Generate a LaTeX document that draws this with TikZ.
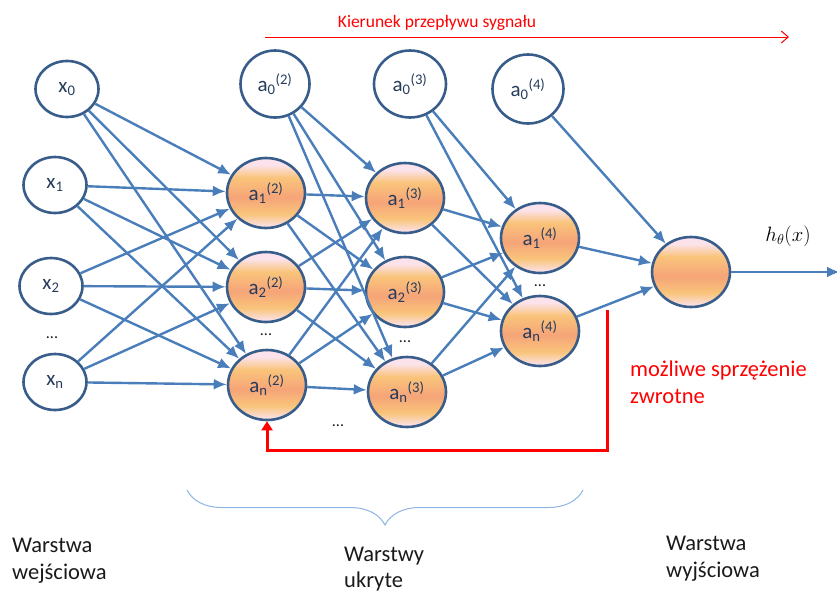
\documentclass[tikz,border=0pt]{standalone}
\usepackage{fontspec}
\setmainfont{Carlito}
\usetikzlibrary{arrows.meta,shapes.geometric,decorations.pathreplacing}

\definecolor{edgeblue}{RGB}{74,126,187}
\definecolor{rimblue}{RGB}{56,93,138}
\definecolor{labelblue}{RGB}{38,60,92}
\definecolor{nlight}{RGB}{252,226,234}
\definecolor{nyellow}{RGB}{249,196,122}
\definecolor{nsalmon}{RGB}{246,164,120}
\definecolor{bracecol}{RGB}{142,180,227}
\definecolor{capcol}{RGB}{26,26,26}

\pgfdeclareverticalshading{neuronfill}{100bp}{color(0bp)=(nlight); color(26bp)=(nlight); color(35bp)=(nyellow); color(47bp)=(nsalmon); color(61bp)=(nyellow); color(70bp)=(nlight); color(100bp)=(nlight)}

\newcommand{\neur}[3]{#1\textsubscript{#2}\textsuperscript{(#3)}}

\tikzset{
  bias/.style={fill=white},
  neuron/.style={shading=neuronfill,minimum width=78pt,minimum height=70pt},
  bigtext/.style={font=\fontsize{22.5}{27}\selectfont},
}

\begin{document}
\begin{tikzpicture}[x=1pt,y=-1pt]
\useasboundingbox (0,0) rectangle (837,598);

      \begin{scope}[every node/.style={ellipse,draw=rimblue,line width=2.6pt,text=labelblue,inner sep=1pt,font=\fontsize{21}{24}\selectfont}]
        \node[bias,minimum width=63pt,minimum height=56pt] (x0) at (67,89)  {x\textsubscript{0}};
        \node[bias,minimum width=63pt,minimum height=56pt] (x1) at (55,185) {x\textsubscript{1}};
        \node[bias,minimum width=63pt,minimum height=56pt] (x2) at (51,286) {x\textsubscript{2}};
        \node[bias,minimum width=63pt,minimum height=56pt] (xn) at (55,382) {x\textsubscript{n}};
        \node[bias,minimum width=69pt,minimum height=67pt] (a02) at (275,84) {\neur{a}{0}{2}};
        \node[neuron] (a12) at (266,193) {\neur{a}{1}{2}};
        \node[neuron] (a22) at (266,287) {\neur{a}{2}{2}};
        \node[neuron] (an2) at (267,385) {\neur{a}{n}{2}};
        \node[bias,minimum width=72pt,minimum height=67pt] (a03) at (410,84) {\neur{a}{0}{3}};
        \node[neuron] (a13) at (405,198) {\neur{a}{1}{3}};
        \node[neuron] (a23) at (405,292) {\neur{a}{2}{3}};
        \node[neuron] (an3) at (407,392) {\neur{a}{n}{3}};
        \node[bias,minimum width=71pt,minimum height=69pt] (a04) at (528,89) {\neur{a}{0}{4}};
        \node[neuron] (a14) at (540,238) {\neur{a}{1}{4}};
        \node[neuron] (an4) at (540,331) {\neur{a}{n}{4}};
        \node[neuron] (out) at (691,272) {};
      \end{scope}

      \begin{scope}[every node/.style={text=capcol,font=\fontsize{16}{18}\selectfont}]
        \node (dotsx) at (52,338) {...};
        \node (dots2) at (266,335) {...};
        \node (dots3) at (405,342) {...};
        \node (dots4) at (540,286) {...};
        \node (dotsm) at (338,426) {...};
      \end{scope}

      \coordinate (hout) at (840,272);
      \coordinate (flowstart) at (265,37);
      \coordinate (flowend) at (789,37);
      \coordinate (fbtop) at (607,310);
      \coordinate (fbcorner) at (607,450);
      \coordinate (braceR) at (583,490);
      \coordinate (braceL) at (187,490);

      \begin{scope}[every edge/.style={draw=edgeblue,line width=2.4pt,-{Latex[length=13pt,width=11pt]}}]
        \path (x0) edge (a12) edge (a22) edge (an2);
        \path (x1) edge (a12) edge (a22) edge (an2);
        \path (x2) edge (a12) edge (a22) edge (an2);
        \path (xn) edge (a12) edge (a22) edge (an2);
        \path (a02) edge (a13) edge (a23) edge (an3);
        \path (a12) edge (a13) edge (a23) edge (an3);
        \path (a22) edge (a13) edge (a23) edge (an3);
        \path (an2) edge (a13) edge (a23) edge (an3);
        \path (a03) edge (a14) edge (an4);
        \path (a13) edge (a14) edge (an4);
        \path (a23) edge (a14) edge (an4);
        \path (an3) edge (a14) edge (an4);
        \path (a04) edge (out);
        \path (a14) edge (out);
        \path (an4) edge (out);
        \path (out) edge (hout);
      \end{scope}

      \draw[red,line width=1pt,-{Straight Barb[length=7pt,width=12pt]}] (flowstart) -- (flowend);
      \draw[red,line width=3pt,-{Triangle[length=9pt,width=11pt]}] (fbtop) -- (fbcorner) -| (an2.south);
      \draw[bracecol,line width=1pt,decorate,decoration={brace,amplitude=35pt}] (braceR) -- (braceL);

      \node[red,anchor=base,font=\fontsize{17.5}{21}\selectfont] (flowtext) at (437,27) {Kierunek przepływu sygnału};
      \node[red,bigtext,anchor=north west,align=left,inner sep=0pt] (fbtext) at (630,361) {możliwe sprzężenie\\zwrotne};
      \node[font=\fontsize{21}{25}\selectfont] (hlab) at (788,236) {$h_\theta(x)$};
      \node[bigtext,text=capcol,anchor=north west,align=left,inner sep=0pt] (lin) at (12,538) {Warstwa\\wejściowa};
      \node[font=\fontsize{22.5}{26}\selectfont,text=capcol,anchor=north west,align=left,inner sep=0pt] (lhid) at (344,547) {Warstwy\\ukryte};
      \node[bigtext,text=capcol,anchor=north west,align=left,inner sep=0pt] (lout) at (666,536) {Warstwa\\wyjściowa};

    \end{tikzpicture}
\end{document}
